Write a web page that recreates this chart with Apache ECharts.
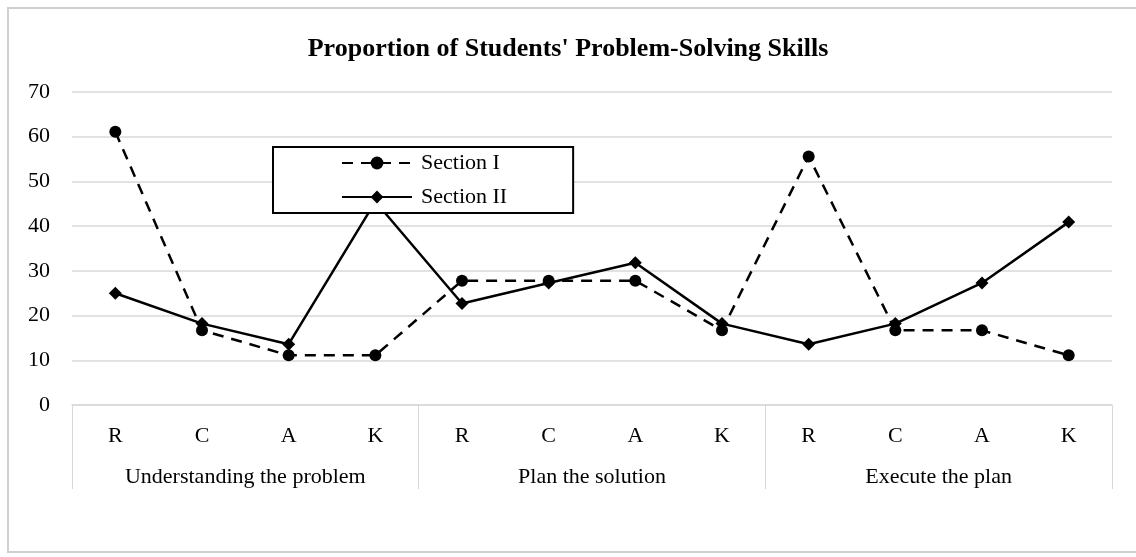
<!DOCTYPE html>
<html>
<head>
<meta charset="utf-8">
<script src="https://cdn.jsdelivr.net/npm/echarts@6/dist/echarts.min.js"></script>
<style>
  html, body { margin: 0; padding: 0; background: #fff; }
  #chart { width: 1136px; height: 557px; }
</style>
</head>
<body>
<div id="chart"></div>
<script>
// tick labels / categories
const skills = ["R", "C", "A", "K", "R", "C", "A", "K", "R", "C", "A", "K"];
const stages = ["Understanding the problem", "Plan the solution", "Execute the plan"];

// percentages
const sectionOne = [61.1, 16.7, 11.1, 11.1, 27.8, 27.8, 27.8, 16.7, 55.6, 16.7, 16.7, 11.1];
const sectionTwo = [25.0, 18.2, 13.6, 45.5, 22.7, 27.3, 31.8, 18.2, 13.6, 18.2, 27.3, 40.9];

const serif = "Liberation Serif";
const gridGray = "#d9d9d9";

const myChart = echarts.init(document.getElementById("chart"));

const options = {
  backgroundColor: "#fff",
  animation: false,
  title: {
    text: "Proportion of Students' Problem-Solving Skills",
    left: "center",
    top: 31,
    textStyle: { fontFamily: serif, fontSize: 26, fontWeight: "bold", color: "#000" },
  },
  legend: {
    orient: "vertical",
    left: 273,
    top: 147,
    padding: [5, 66, 5, 68],
    itemGap: 12,
    itemWidth: 70,
    itemHeight: 16,
    borderColor: "#000",
    borderWidth: 2,
    borderRadius: 0,
    backgroundColor: "#fff",
    z: 10,
    textStyle: { fontFamily: serif, fontSize: 22, color: "#000", padding: [0, 0, 0, 4] },
    data: ["Section I", "Section II"],
  },
  grid: { left: 72, right: 24, top: 92, bottom: 152 },
  xAxis: [
    {
      type: "category",
      data: skills,
      axisLine: { show: true, lineStyle: { color: gridGray, width: 1.5 } },
      axisTick: { show: false },
      axisLabel: { margin: 20, fontFamily: serif, fontSize: 22, color: "#000", interval: 0 },
    },
    {
      type: "category",
      data: stages,
      position: "bottom",
      axisLine: { show: false },
      axisTick: { show: true, length: 84, lineStyle: { color: gridGray, width: 1 } },
      axisLabel: { margin: 61, fontFamily: serif, fontSize: 22, color: "#000", interval: 0 },
    },
  ],
  yAxis: {
    type: "value",
    min: 0,
    max: 70,
    interval: 10,
    axisLine: { show: false },
    axisTick: { show: false },
    axisLabel: { margin: 22, fontFamily: serif, fontSize: 22, color: "#000" },
    splitLine: { show: true, lineStyle: { color: gridGray, width: 1.5 } },
  },
  graphic: [
    {
      type: "rect",
      shape: { x: 8, y: 8, width: 1140, height: 544 },
      style: { fill: "none", stroke: "#d0d0d0", lineWidth: 2 },
      silent: true,
      z: -1,
    },
  ],
  series: [
    {
      name: "Section I",
      type: "line",
      data: sectionOne,
      symbol: "circle",
      symbolSize: 12,
      lineStyle: { color: "#000", width: 2.5, type: [11, 8] },
      itemStyle: { color: "#000" },
      z: 2,
    },
    {
      name: "Section II",
      type: "line",
      data: sectionTwo,
      symbol: "diamond",
      symbolSize: 13,
      lineStyle: { color: "#000", width: 2.5 },
      itemStyle: { color: "#000" },
      z: 3,
    },
  ],
};

myChart.setOption(options);
</script>
</body>
</html>
